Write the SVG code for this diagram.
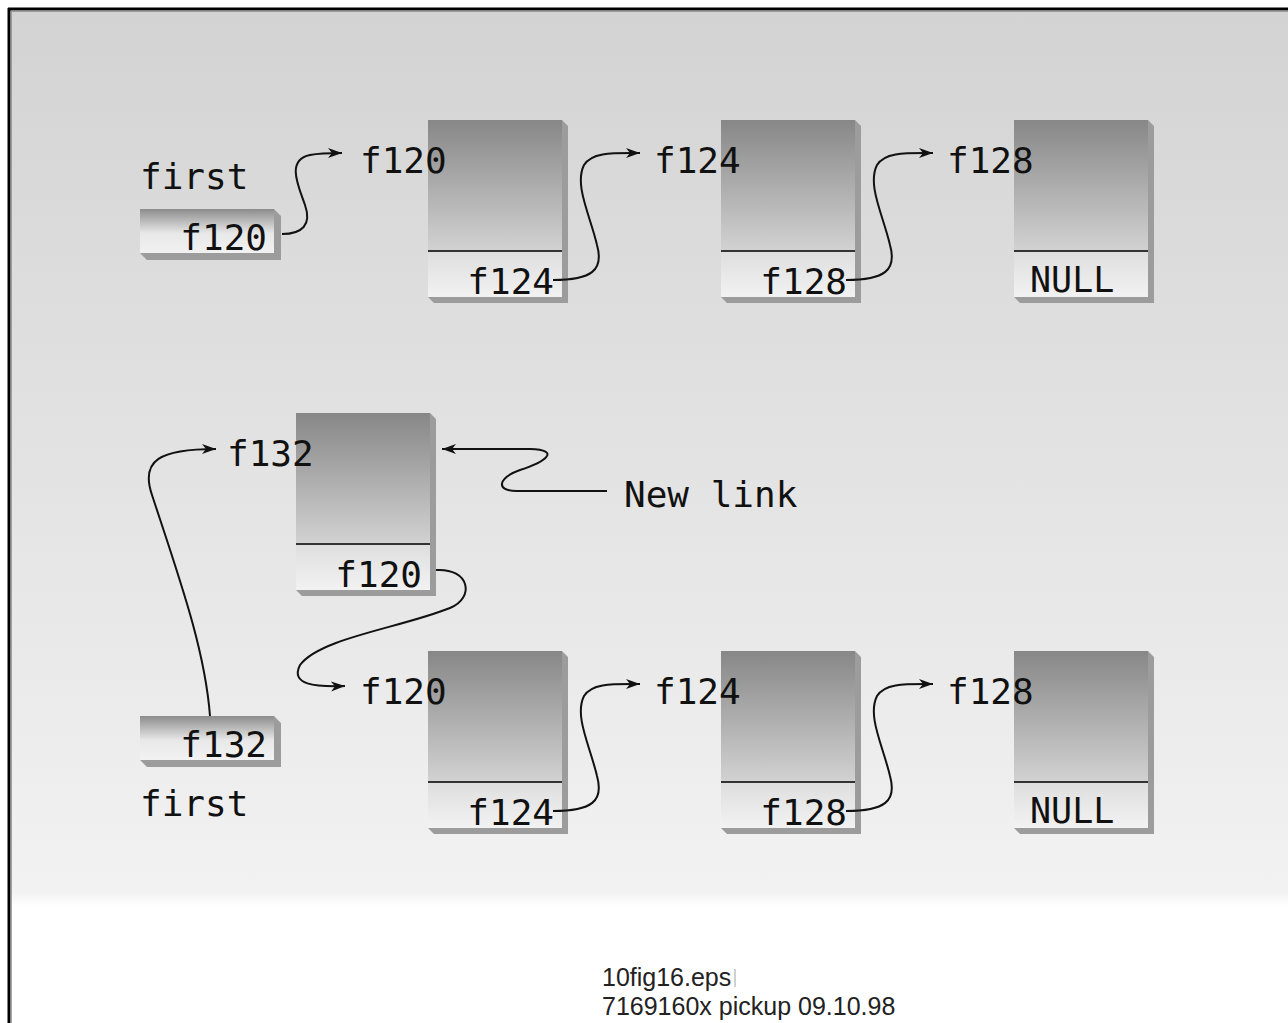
<svg xmlns="http://www.w3.org/2000/svg" xmlns:xlink="http://www.w3.org/1999/xlink" width="1288" height="1023" viewBox="0 0 1288 1023">
<style>
.lbl{font-family:"DejaVu Sans Mono","Liberation Mono",monospace;font-size:36px;fill:#111}
.null{font-family:"DejaVu Sans Mono","Liberation Mono",monospace;font-size:35px;fill:#111}
.foot{font-family:"Liberation Sans",Arial,sans-serif;font-size:25px;fill:#222}
.con{fill:none;stroke:#111;stroke-width:2}
.shadow{fill:#9c9c9c}
</style>
<defs>
<linearGradient id="bg" x1="0" y1="0" x2="0" y2="1">
<stop offset="0" stop-color="#d3d3d3"/>
<stop offset="1" stop-color="#f2f2f2"/>
</linearGradient>
<linearGradient id="fade" x1="0" y1="0" x2="0" y2="1">
<stop offset="0" stop-color="#f2f2f2"/>
<stop offset="1" stop-color="#ffffff"/>
</linearGradient>
<linearGradient id="gTop" x1="0" y1="0" x2="0" y2="1">
<stop offset="0" stop-color="#878787"/>
<stop offset="1" stop-color="#d2d2d2"/>
</linearGradient>
<linearGradient id="gBot" x1="0" y1="0" x2="0" y2="1">
<stop offset="0" stop-color="#dedede"/>
<stop offset="1" stop-color="#f2f2f2"/>
</linearGradient>
<linearGradient id="gPtr" x1="0" y1="0" x2="0" y2="1">
<stop offset="0" stop-color="#8c8c8c"/>
<stop offset="0.55" stop-color="#e8e8e8"/>
<stop offset="1" stop-color="#f2f2f2"/>
</linearGradient>
<g id="cell">
<polygon class="shadow" points="134,0 140,6 140,183 6,183 0,177 134,177"/>
<rect x="0" y="0" width="134" height="131" fill="url(#gTop)"/>
<rect x="0" y="131" width="134" height="46" fill="url(#gBot)"/>
<line x1="0" y1="131" x2="134" y2="131" stroke="#333" stroke-width="2"/>
</g>
<g id="ptr">
<polygon class="shadow" points="134,0 141,7 141,51 7,51 0,44 134,44"/>
<rect x="0" y="0" width="134" height="44" fill="url(#gPtr)"/>
</g>
<marker id="arr" markerUnits="userSpaceOnUse" markerWidth="16" markerHeight="12" refX="14" refY="6" orient="auto">
<path d="M0,1 L14,6 L0,11 L4,6 z" fill="#111"/>
</marker>
</defs>

<rect x="8" y="8" width="1290" height="884" fill="url(#bg)"/>
<rect x="8" y="892" width="1290" height="14" fill="url(#fade)"/>
<line x1="8" y1="9" x2="1288" y2="9" stroke="#000" stroke-width="3"/>
<line x1="9" y1="8" x2="9" y2="1023" stroke="#000" stroke-width="3"/>
<line x1="11" y1="11" x2="1288" y2="11" stroke="#888" stroke-width="1.5"/>
<line x1="11" y1="11" x2="11" y2="1023" stroke="#888" stroke-width="1.5"/>

<g id="top-first">
<text class="lbl" x="140" y="189">first</text>
<use xlink:href="#ptr" x="140" y="209"/>
<text class="lbl" x="267" y="250" text-anchor="end">f120</text>
</g>
<g id="top-f120">
<use xlink:href="#cell" x="428" y="120"/>
<text class="lbl" x="360" y="173">f120</text>
<text class="lbl" x="554" y="294" text-anchor="end">f124</text>
</g>
<g id="top-f124">
<use xlink:href="#cell" x="721" y="120"/>
<text class="lbl" x="654" y="173">f124</text>
<text class="lbl" x="847" y="294" text-anchor="end">f128</text>
</g>
<g id="top-f128">
<use xlink:href="#cell" x="1014" y="120"/>
<text class="lbl" x="947" y="173">f128</text>
<text class="null" x="1030" y="292">NULL</text>
</g>

<g id="new-f132">
<use xlink:href="#cell" x="296" y="413"/>
<text class="lbl" x="227" y="466">f132</text>
<text class="lbl" x="422" y="587" text-anchor="end">f120</text>
</g>
<g id="new-link-label">
<text class="lbl" x="624" y="507">New link</text>
</g>

<g id="bot-first">
<use xlink:href="#ptr" x="140" y="716"/>
<text class="lbl" x="267" y="757" text-anchor="end">f132</text>
<text class="lbl" x="140" y="816">first</text>
</g>
<g id="bot-f120">
<use xlink:href="#cell" x="428" y="651"/>
<text class="lbl" x="360" y="704">f120</text>
<text class="lbl" x="554" y="825" text-anchor="end">f124</text>
</g>
<g id="bot-f124">
<use xlink:href="#cell" x="721" y="651"/>
<text class="lbl" x="654" y="704">f124</text>
<text class="lbl" x="847" y="825" text-anchor="end">f128</text>
</g>
<g id="bot-f128">
<use xlink:href="#cell" x="1014" y="651"/>
<text class="lbl" x="947" y="704">f128</text>
<text class="null" x="1030" y="823">NULL</text>
</g>

<g id="connectors">
<path class="con" marker-end="url(#arr)" d="M282,234 C302,234 312,225 305,205 C298,185 286,160 310,155 C320,153 330,153 342,153"/>
<path class="con" marker-end="url(#arr)" d="M553,280 C592,280 604,270 597,245 C590,215 574,185 584,165 C592,152 612,153 640,153"/>
<path class="con" marker-end="url(#arr)" d="M846,280 C885,280 897,270 890,245 C883,215 867,185 877,165 C885,152 905,153 933,153"/>
<path class="con" marker-end="url(#arr)" d="M553,811 C592,811 604,801 597,776 C590,746 574,716 584,696 C592,683 612,684 640,684"/>
<path class="con" marker-end="url(#arr)" d="M846,811 C885,811 897,801 890,776 C883,746 867,716 877,696 C885,683 905,684 933,684"/>
<path class="con" marker-end="url(#arr)" d="M210,716 C205,650 180,580 152,495 C140,460 160,449 216,449"/>
<path class="con" marker-end="url(#arr)" d="M607,491 L517,491 C495,491 498,478 520,470 C545,462 562,450 530,449 L442,449"/>
<path class="con" marker-end="url(#arr)" d="M436,570 C470,568 475,598 450,608 C400,628 320,638 300,665 C290,685 315,687 345,686"/>
</g>

<text class="foot" x="602" y="986">10fig16.eps</text>
<rect x="734" y="969" width="2" height="18" fill="#d0d0d0"/>
<text class="foot" x="602" y="1015">7169160x pickup 09.10.98</text>
</svg>
